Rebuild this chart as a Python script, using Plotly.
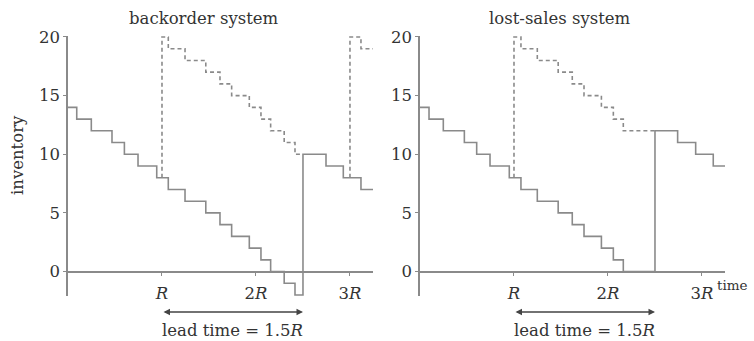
import plotly.graph_objects as go
from plotly.subplots import make_subplots

# ---- data (time in units of R) ----
bo_times = [0, 0.093, 0.248, 0.468, 0.600, 0.745, 0.944, 1.067, 1.245, 1.466, 1.617, 1.741,
            1.929, 2.053, 2.156, 2.300, 2.415, 2.500, 2.745, 2.929, 3.117, 3.245]
bo_levels = [14, 13, 12, 11, 10, 9, 8, 7, 6, 5, 4, 3, 2, 1, 0, -1, -2, 10, 9, 8, 7, 7]

bo_pos1_times = [1.0, 1.0, 1.067, 1.245, 1.466, 1.617, 1.741, 1.929, 2.053, 2.156, 2.300, 2.415, 2.500]
bo_pos1_levels = [8, 20, 19, 18, 17, 16, 15, 14, 13, 12, 11, 10, 10]
bo_pos2_times = [3.0, 3.0, 3.117, 3.245]
bo_pos2_levels = [8, 20, 19, 19]

ls_times = [0, 0.096, 0.248, 0.472, 0.603, 0.745, 0.950, 1.074, 1.248, 1.470, 1.620, 1.745,
            1.930, 2.057, 2.163, 2.500, 2.741, 2.933, 3.120, 3.245]
ls_levels = [14, 13, 12, 11, 10, 9, 8, 7, 6, 5, 4, 3, 2, 1, 0, 12, 11, 10, 9, 9]

ls_pos_times = [1.0, 1.0, 1.074, 1.248, 1.470, 1.620, 1.745, 1.930, 2.057, 2.163, 2.500]
ls_pos_levels = [8, 20, 19, 18, 17, 16, 15, 14, 13, 12, 12]

x_tickvals = [1, 2, 3]
x_ticktext = ["<i>R</i>", "2<i>R</i>", "3<i>R</i>"]
y_tickvals = [0, 5, 10, 15, 20]
titles = ["backorder system", "lost-sales system"]
order_time = 1.0
arrival_time = 2.5
lead_label = "lead time = 1.5<i>R</i>"

# ---- style ----
FONT = "DejaVu Serif"
FS = 16.5
LINE = "#8a8a8a"
TEXT = "#333333"
W, H = 754, 341

fig = make_subplots(rows=1, cols=2)

def add_step(x, y, col, dash="solid"):
    fig.add_trace(go.Scatter(x=x, y=y, mode="lines", line_shape="hv",
                             line=dict(color=LINE, width=1.6, dash=dash),
                             showlegend=False, hoverinfo="skip"), row=1, col=col)

add_step(bo_times, bo_levels, 1)
add_step(bo_pos1_times, bo_pos1_levels, 1, dash="4px,3px")
add_step(bo_pos2_times, bo_pos2_levels, 1, dash="4px,3px")
add_step(ls_times, ls_levels, 2)
add_step(ls_pos_times, ls_pos_levels, 2, dash="4px,3px")

ydom = [1 - 296.2 / H, 1 - 35.8 / H]
xdoms = [[68 / W, 373 / W], [420 / W, 725 / W]]
y0_paper = ydom[0] + (0 + 2.1) / 22.2 * (ydom[1] - ydom[0])

for i, name in enumerate(["xaxis", "xaxis2"]):
    fig.layout[name].update(
        domain=xdoms[i], range=[0, 3.245], showgrid=False, zeroline=False,
        showline=False, anchor="free", position=y0_paper, automargin=False,
        tickvals=x_tickvals, ticktext=x_ticktext, ticks="outside", ticklen=3,
        tickwidth=1, tickcolor=LINE, ticklabelstandoff=4,
        tickfont=dict(family=FONT, size=FS, color=TEXT))
for i, name in enumerate(["yaxis", "yaxis2"]):
    fig.layout[name].update(
        domain=ydom, range=[-2.1, 20.1], showgrid=False, automargin=False,
        zeroline=True, zerolinecolor=LINE, zerolinewidth=1.6,
        showline=True, linecolor=LINE, linewidth=1.6,
        tickvals=y_tickvals, ticks="outside", ticklen=3, tickwidth=1, tickcolor=LINE,
        tickfont=dict(family=FONT, size=FS, color=TEXT))

anns = []
centers = [204 / W, 560 / W]
for i, t in enumerate(titles):
    anns.append(dict(text=t, x=centers[i], y=1 - 19 / H, xref="paper", yref="paper",
                     xanchor="center", yanchor="middle",
                     showarrow=False, font=dict(family=FONT, size=FS, color=TEXT)))
anns.append(dict(text="inventory", x=17 / W, y=1 - 155 / H, xref="paper", yref="paper",
                 xanchor="center", yanchor="middle", textangle=-90,
                 showarrow=False, font=dict(family=FONT, size=FS, color=TEXT)))
for xr in ["x", "x2"]:
    anns.append(dict(x=arrival_time, y=1 - 312 / H, xref=xr, yref="paper",
                     ax=order_time, ay=0, axref=xr, ayref="pixel",
                     showarrow=True, arrowside="end+start", arrowhead=2, arrowsize=1,
                     arrowwidth=1.3, arrowcolor="#444444", text=""))
    anns.append(dict(x=(order_time + arrival_time) / 2, y=1 - 330 / H, xref=xr, yref="paper",
                     xanchor="center", yanchor="middle",
                     text=lead_label, showarrow=False,
                     font=dict(family=FONT, size=FS, color=TEXT)))
anns.append(dict(text="time", x=732 / W, y=1 - 285 / H, xref="paper", yref="paper",
                 xanchor="center", yanchor="middle",
                 showarrow=False, font=dict(family=FONT, size=13.5, color=TEXT)))

fig.update_layout(width=W, height=H, margin=dict(l=0, r=0, t=0, b=0),
                  paper_bgcolor="white", plot_bgcolor="white", annotations=anns)

fig.write_html("out.html")
